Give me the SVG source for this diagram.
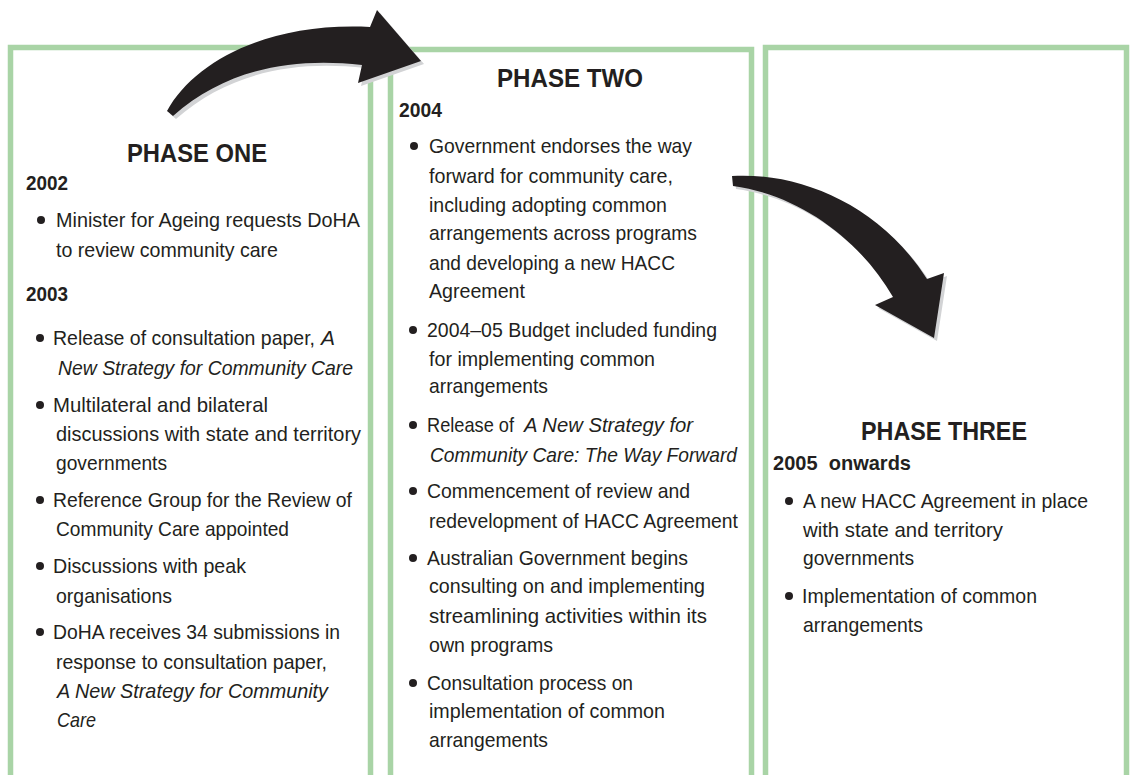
<svg xmlns="http://www.w3.org/2000/svg" width="1132" height="775" viewBox="0 0 1132 775">
<defs>
<style>
.box{fill:none;stroke:#a9d4a6;stroke-width:5.5}
.t{font-family:"Liberation Sans",Arial,sans-serif;font-size:21px;fill:#231f20}
.h{font-family:"Liberation Sans",Arial,sans-serif;font-size:26px;font-weight:bold;fill:#231f20}
.y{font-family:"Liberation Sans",Arial,sans-serif;font-size:21px;font-weight:bold;fill:#231f20;white-space:pre}
.i{font-style:italic}
.arrow{fill:#231f20}
.shadow{fill:#d2d3d5}
</style>
<circle id="b" r="4" fill="#231f20"/>
</defs>
<rect width="1132" height="775" fill="#ffffff"/>

<g id="phase-one">
<rect class="box" x="10.5" y="47.5" width="360" height="800"/>
<text class="h" x="127" y="162" textLength="140" lengthAdjust="spacingAndGlyphs">PHASE ONE</text>
<text class="y" x="26" y="190" textLength="42" lengthAdjust="spacingAndGlyphs">2002</text>
<use href="#b" x="41" y="220"/>
<text class="t" x="56" y="227" textLength="304" lengthAdjust="spacingAndGlyphs">Minister for Ageing requests DoHA</text>
<text class="t" x="56" y="257" textLength="222" lengthAdjust="spacingAndGlyphs">to review community care</text>
<text class="y" x="26" y="301" textLength="42" lengthAdjust="spacingAndGlyphs">2003</text>
<use href="#b" x="40" y="338"/>
<text class="t" x="53" y="345" textLength="262" lengthAdjust="spacingAndGlyphs">Release of consultation paper,</text>
<text class="t i" x="321" y="345">A</text>
<text class="t i" x="58" y="375" textLength="295" lengthAdjust="spacingAndGlyphs">New Strategy for Community Care</text>
<use href="#b" x="40" y="405"/>
<text class="t" x="53" y="412" textLength="215" lengthAdjust="spacingAndGlyphs">Multilateral and bilateral</text>
<text class="t" x="56" y="441" textLength="305" lengthAdjust="spacingAndGlyphs">discussions with state and territory</text>
<text class="t" x="56" y="470" textLength="111" lengthAdjust="spacingAndGlyphs">governments</text>
<use href="#b" x="40" y="500"/>
<text class="t" x="53" y="507" textLength="299" lengthAdjust="spacingAndGlyphs">Reference Group for the Review of</text>
<text class="t" x="56" y="536" textLength="233" lengthAdjust="spacingAndGlyphs">Community Care appointed</text>
<use href="#b" x="40" y="566"/>
<text class="t" x="53" y="573" textLength="193" lengthAdjust="spacingAndGlyphs">Discussions with peak</text>
<text class="t" x="56" y="603" textLength="116" lengthAdjust="spacingAndGlyphs">organisations</text>
<use href="#b" x="40" y="632"/>
<text class="t" x="53" y="639" textLength="287" lengthAdjust="spacingAndGlyphs">DoHA receives 34 submissions in</text>
<text class="t" x="56" y="669" textLength="271" lengthAdjust="spacingAndGlyphs">response to consultation paper,</text>
<text class="t i" x="57" y="698" textLength="271" lengthAdjust="spacingAndGlyphs">A New Strategy for Community</text>
<text class="t i" x="57" y="727" textLength="39" lengthAdjust="spacingAndGlyphs">Care</text>
</g>

<g id="phase-two">
<rect class="box" x="390.5" y="49.5" width="361" height="800"/>
<text class="h" x="497" y="87" textLength="146" lengthAdjust="spacingAndGlyphs">PHASE TWO</text>
<text class="y" x="399" y="117" textLength="43" lengthAdjust="spacingAndGlyphs">2004</text>
<use href="#b" x="414" y="146"/>
<text class="t" x="429" y="153" textLength="263" lengthAdjust="spacingAndGlyphs">Government endorses the way</text>
<text class="t" x="429" y="183" textLength="244" lengthAdjust="spacingAndGlyphs">forward for community care,</text>
<text class="t" x="429" y="212" textLength="238" lengthAdjust="spacingAndGlyphs">including adopting common</text>
<text class="t" x="429" y="240" textLength="268" lengthAdjust="spacingAndGlyphs">arrangements across programs</text>
<text class="t" x="429" y="270" textLength="246" lengthAdjust="spacingAndGlyphs">and developing a new HACC</text>
<text class="t" x="429" y="298" textLength="96" lengthAdjust="spacingAndGlyphs">Agreement</text>
<use href="#b" x="413" y="330"/>
<text class="t" x="427" y="337" textLength="290" lengthAdjust="spacingAndGlyphs">2004–05 Budget included funding</text>
<text class="t" x="429" y="366" textLength="226" lengthAdjust="spacingAndGlyphs">for implementing common</text>
<text class="t" x="429" y="393" textLength="119" lengthAdjust="spacingAndGlyphs">arrangements</text>
<use href="#b" x="413" y="425"/>
<text class="t" x="427" y="432" textLength="87" lengthAdjust="spacingAndGlyphs">Release of</text>
<text class="t i" x="524" y="432" textLength="169" lengthAdjust="spacingAndGlyphs">A New Strategy for</text>
<text class="t i" x="430" y="462" textLength="307" lengthAdjust="spacingAndGlyphs">Community Care: The Way Forward</text>
<use href="#b" x="413" y="491"/>
<text class="t" x="427" y="498" textLength="263" lengthAdjust="spacingAndGlyphs">Commencement of review and</text>
<text class="t" x="429" y="528" textLength="309" lengthAdjust="spacingAndGlyphs">redevelopment of HACC Agreement</text>
<use href="#b" x="413" y="558"/>
<text class="t" x="427" y="565" textLength="261" lengthAdjust="spacingAndGlyphs">Australian Government begins</text>
<text class="t" x="429" y="593" textLength="276" lengthAdjust="spacingAndGlyphs">consulting on and implementing</text>
<text class="t" x="429" y="623" textLength="278" lengthAdjust="spacingAndGlyphs">streamlining activities within its</text>
<text class="t" x="429" y="652" textLength="124" lengthAdjust="spacingAndGlyphs">own programs</text>
<use href="#b" x="413" y="683"/>
<text class="t" x="427" y="690" textLength="206" lengthAdjust="spacingAndGlyphs">Consultation process on</text>
<text class="t" x="429" y="718" textLength="236" lengthAdjust="spacingAndGlyphs">implementation of common</text>
<text class="t" x="429" y="747" textLength="119" lengthAdjust="spacingAndGlyphs">arrangements</text>
</g>

<g id="phase-three">
<rect class="box" x="765.5" y="47.5" width="361" height="800"/>
<text class="h" x="861" y="440" textLength="166" lengthAdjust="spacingAndGlyphs">PHASE THREE</text>
<text class="y" x="773" y="470" textLength="138" lengthAdjust="spacingAndGlyphs">2005  onwards</text>
<use href="#b" x="789" y="501"/>
<text class="t" x="803" y="508" textLength="285" lengthAdjust="spacingAndGlyphs">A new HACC Agreement in place</text>
<text class="t" x="803" y="537" textLength="200" lengthAdjust="spacingAndGlyphs">with state and territory</text>
<text class="t" x="803" y="565" textLength="111" lengthAdjust="spacingAndGlyphs">governments</text>
<use href="#b" x="789" y="596"/>
<text class="t" x="802" y="603" textLength="235" lengthAdjust="spacingAndGlyphs">Implementation of common</text>
<text class="t" x="803" y="632" textLength="120" lengthAdjust="spacingAndGlyphs">arrangements</text>
</g>

<g id="connectors">
<path class="shadow" transform="translate(3,3)" d="M167,111 C195,60 270,22 370,27 L377,10 L421,61 L358,83 L362,65 C290,57 225,70 173,116 Z"/>
<path class="arrow" d="M167,111 C195,60 270,22 370,27 L377,10 L421,61 L358,83 L362,65 C290,57 225,70 173,116 Z"/>
<path class="shadow" transform="translate(3,3)" d="M732,176 C800,172 880,205 927,279 L944,273 L934,338 L875,305 L893,297 C860,240 800,195 733,186 Z"/>
<path class="arrow" d="M732,176 C800,172 880,205 927,279 L944,273 L934,338 L875,305 L893,297 C860,240 800,195 733,186 Z"/>
</g>
</svg>
